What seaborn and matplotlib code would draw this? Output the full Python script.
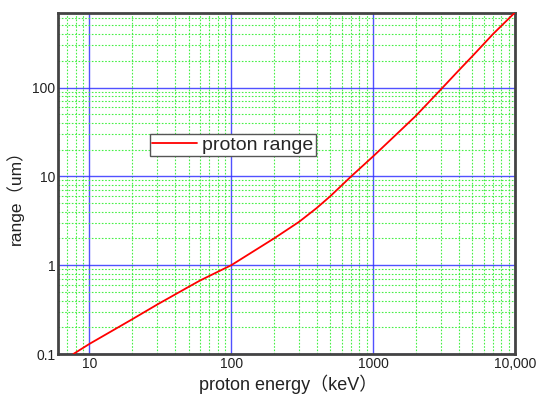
import matplotlib
matplotlib.use("Agg")
import matplotlib.pyplot as plt
import matplotlib.ticker as mticker
import seaborn as sns
import pandas as pd
import numpy as np

energy_kev = [7.7, 10, 20, 30, 50, 60, 80, 100, 150, 200, 300, 400, 500, 700, 1000, 1500, 2000, 3000, 4000, 5000, 7000, 10000]
range_um = [0.10, 0.13, 0.246, 0.36, 0.57, 0.67, 0.84, 1.0, 1.5, 2.0, 3.07, 4.4, 6.0, 10.0, 16.8, 31.0, 48.0, 95.0, 155.0, 225.0, 400.0, 700.0]

x_ticks = [10, 100, 1000, 10000]
x_tick_labels = ["10", "100", "1000", "10,000"]
y_ticks = [0.1, 1, 10, 100]
y_tick_labels = ["0.1", "1", "10", "100"]

df = pd.DataFrame({"energy": energy_kev, "range": range_um, "series": "proton range"})

sns.set_style("white")
plt.rcParams['font.family'] = ['Liberation Sans', 'Noto Sans CJK SC', 'DejaVu Sans']

fig = plt.figure(figsize=(5.37, 3.94), dpi=100)
ax = fig.add_axes([58/537, 1 - 354/394, (515-58)/537, (354-13)/394])

ax.set_xscale("log")
ax.set_yscale("log")
ax.set_xlim(6.0, 10000)
ax.set_ylim(0.1, 690)

ax.xaxis.set_minor_locator(mticker.LogLocator(base=10, subs=np.arange(2, 10)))
ax.yaxis.set_minor_locator(mticker.LogLocator(base=10, subs=np.arange(2, 10)))
ax.grid(which="minor", color="#33ee33", linestyle=(0, (1.5, 1.5)), linewidth=0.8, alpha=0.9)
ax.grid(which="major", color="#3333ff", linestyle="-", linewidth=1.0, alpha=0.85)
ax.set_axisbelow(True)

sns.lineplot(data=df, x="energy", y="range", hue="series", palette=["#ff0000"],
             linewidth=1.3, ax=ax, legend=True, zorder=5)

ax.set_xticks(x_ticks)
ax.set_xticklabels(x_tick_labels)
ax.set_yticks(y_ticks)
ax.set_yticklabels(y_tick_labels)
ax.xaxis.set_minor_formatter(mticker.NullFormatter())
ax.yaxis.set_minor_formatter(mticker.NullFormatter())
ax.tick_params(which="both", length=0, labelsize=10, colors="#222222", pad=2)

for s in ax.spines.values():
    s.set_color("#444444")
    s.set_linewidth(2.0)
    s.set_visible(True)

ax.set_xlabel("proton energy（keV）", fontsize=13, color="#222222", va="center")
ax.xaxis.set_label_coords((288-58)/457, (354-384)/341)
ax.set_ylabel("range（um）", fontsize=12.5, color="#222222", va="center")
ax.yaxis.set_label_coords((15-58)/457, (354-193.5)/341)

leg = ax.legend(loc="upper left", bbox_to_anchor=((150-58)/457, 1 - (134-13)/341),
                fontsize=14, frameon=True, fancybox=False, handlelength=2.3,
                borderpad=0.12, handletextpad=0.25, borderaxespad=0)
leg.get_frame().set_edgecolor("#555555")
leg.get_frame().set_linewidth(1.0)
leg.get_frame().set_facecolor("white")
leg.get_frame().set_alpha(1)

fig.savefig("out.png", dpi=100)
